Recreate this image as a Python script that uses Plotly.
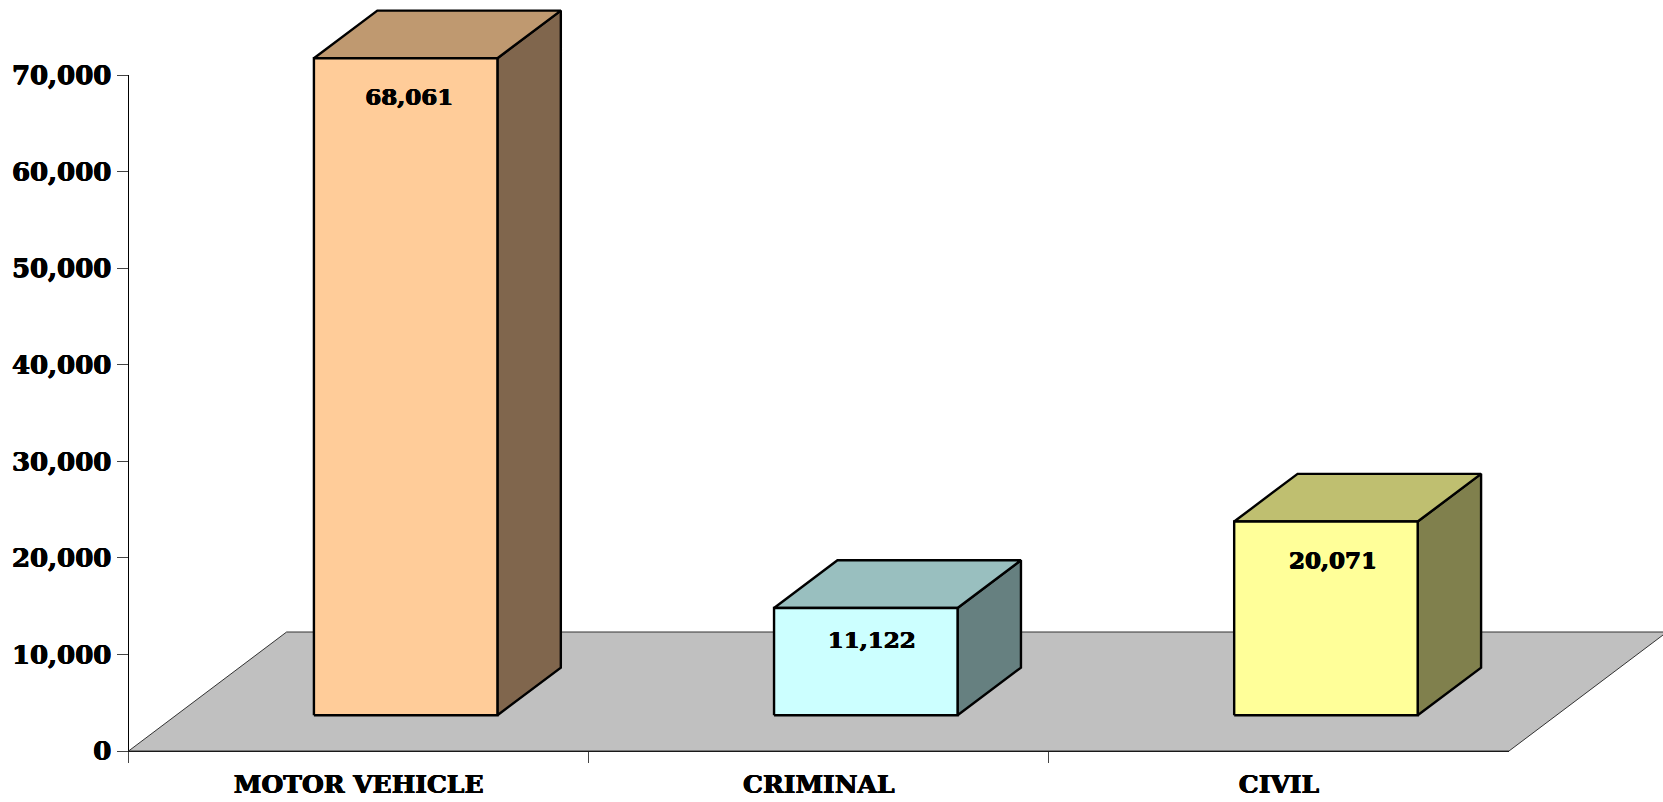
import plotly.graph_objects as go

# ---- data ----
categories = ["MOTOR VEHICLE", "CRIMINAL", "CIVIL"]
values = [68061, 11122, 20071]
value_labels = ["68,061", "11,122", "20,071"]
y_ticks = [0, 10000, 20000, 30000, 40000, 50000, 60000, 70000]
y_tick_labels = ["0", "10,000", "20,000", "30,000", "40,000", "50,000", "60,000", "70,000"]

# ---- colours ----
front_colors = ["#FFCC99", "#CCFFFF", "#FFFF99"]
top_colors = ["#BF9970", "#99BFBF", "#BFBF70"]
side_colors = ["#80664D", "#668080", "#80804D"]
floor_color = "#C0C0C0"
FONT = "DejaVu Serif"
HEAVY = "0.5px 0 0 #000, -0.5px 0 0 #000, 0 0.3px 0 #000"

# ---- geometry (pixels of the 1663x802 page) ----
W, H = 1663, 802
AX_L, AX_R, AX_B, AX_T = 128.6, 1509.0, 751.0, 75.3
UNIT_X = (AX_R - AX_L) / 3
UNIT_Y = (AX_B - AX_T) / 70000
FLOOR_DX, FLOOR_DY = 158 / UNIT_X, 119 / UNIT_Y
BAR_DX, BAR_DY = 63.4 / UNIT_X, 47.7 / UNIT_Y
BAR_W = 183.5 / UNIT_X
BAR_SHIFT_X, BAR_SHIFT_Y = 47 / UNIT_X, 35.7 / UNIT_Y
label_shift_x = [3.7 / UNIT_X, 5.9 / UNIT_X, 7 / UNIT_X]
label_drop_y = [41 / UNIT_Y, 34 / UNIT_Y, 41 / UNIT_Y]

fig = go.Figure()

# visible axes: invisible trace keeps the category axis alive
fig.add_trace(go.Bar(x=categories, y=values, opacity=0, xaxis="x", yaxis="y",
                     showlegend=False, hoverinfo="skip"))


def poly(xs, ys, fill, width=2.4, color="#000000"):
    fig.add_trace(go.Scatter(
        x=xs + xs[:1], y=ys + ys[:1], mode="lines", fill="toself", fillcolor=fill,
        line=dict(color=color, width=width, simplify=False),
        xaxis="x2", yaxis="y2", showlegend=False, hoverinfo="skip"))


# floor
poly([-0.5, 2.5, 2.5 + FLOOR_DX, -0.5 + FLOOR_DX], [0, 0, FLOOR_DY, FLOOR_DY],
     floor_color, width=1.0, color="#333333")

# bars
for i, v in enumerate(values):
    x0 = i - BAR_W / 2 + BAR_SHIFT_X
    x1 = i + BAR_W / 2 + BAR_SHIFT_X
    y0 = BAR_SHIFT_Y
    y1 = BAR_SHIFT_Y + v
    poly([x1, x1 + BAR_DX, x1 + BAR_DX, x1], [y0, y0 + BAR_DY, y1 + BAR_DY, y1], side_colors[i])
    poly([x0, x1, x1 + BAR_DX, x0 + BAR_DX], [y1, y1, y1 + BAR_DY, y1 + BAR_DY], top_colors[i])
    poly([x0, x1, x1, x0], [y0, y0, y1, y1], front_colors[i])

# value labels
fig.add_trace(go.Scatter(
    x=[i + BAR_SHIFT_X + label_shift_x[i] for i in range(3)],
    y=[BAR_SHIFT_Y + values[i] - label_drop_y[i] for i in range(3)],
    text=value_labels, mode="text", textposition="middle center",
    textfont=dict(family=FONT, size=23, color="#000000", weight="bold", shadow=HEAVY),
    xaxis="x2", yaxis="y2", showlegend=False, hoverinfo="skip"))

fig.update_layout(
    width=W, height=H, autosize=False,
    margin=dict(l=0, r=0, t=0, b=0, pad=0),
    paper_bgcolor="#FFFFFF", plot_bgcolor="rgba(0,0,0,0)",
    showlegend=False,
    xaxis=dict(
        domain=[AX_L / W, AX_R / W], range=[-0.5, 2.5], type="category",
        categoryorder="array", categoryarray=categories, automargin=False,
        tickson="boundaries", ticks="outside", ticklen=11, tickwidth=1, tickcolor="#444444",
        showline=True, linecolor="#000000", linewidth=1, showgrid=False, zeroline=False,
        tickfont=dict(family=FONT, size=25, color="#000000", weight="bold", shadow=HEAVY),
        ticklabelstandoff=11, anchor="y", fixedrange=True),
    yaxis=dict(
        domain=[(H - AX_B) / H, (H - AX_T) / H], range=[0, 70000], automargin=False,
        tickmode="array", tickvals=y_ticks, ticktext=y_tick_labels,
        ticks="outside", ticklen=11, tickwidth=1, tickcolor="#444444",
        showline=True, linecolor="#000000", linewidth=1, showgrid=False, zeroline=False,
        tickfont=dict(family=FONT, size=26, color="#000000", weight="bold", shadow=HEAVY),
        anchor="x", fixedrange=True),
    xaxis2=dict(
        domain=[0, 1], range=[-0.5 - AX_L / UNIT_X, 2.5 + (W - AX_R) / UNIT_X],
        visible=False, anchor="y2", fixedrange=True, automargin=False),
    yaxis2=dict(
        domain=[0, 1], range=[-(H - AX_B) / UNIT_Y, AX_B / UNIT_Y],
        visible=False, anchor="x2", fixedrange=True, automargin=False),
)

fig.write_html("out.html", config=dict(displayModeBar=False),
               post_script="document.body.style.margin='0';document.body.style.overflow='hidden';")
